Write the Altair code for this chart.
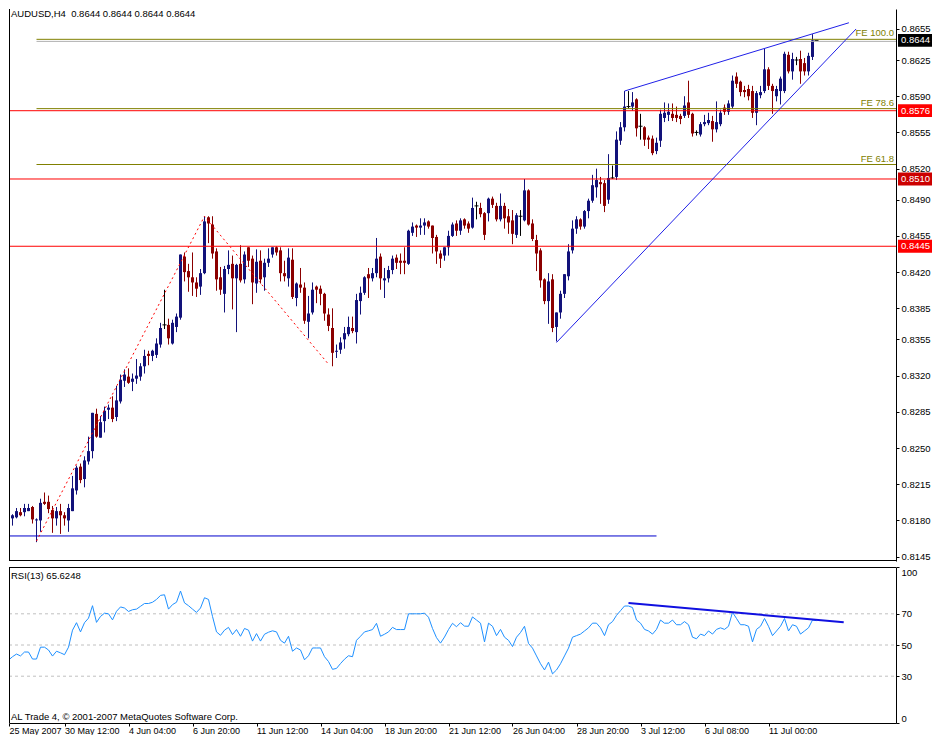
import altair as alt
import pandas as pd

# ---------------- data ----------------
OPEN = [
    0.8215, 0.8183, 0.8182, 0.8183, 0.8188, 0.8188, 0.8189, 0.8193, 0.8180, 0.8180,
    0.8198, 0.8198, 0.8190, 0.8182, 0.8189, 0.8185, 0.8180, 0.8189, 0.8209, 0.8232,
    0.8220, 0.8237, 0.8247, 0.8283, 0.8260, 0.8276, 0.8287, 0.8289, 0.8280, 0.8295,
    0.8315, 0.8319, 0.8314, 0.8317, 0.8319, 0.8329, 0.8341, 0.8339, 0.8340, 0.8350,
    0.8369, 0.8369, 0.8351, 0.8367, 0.8376, 0.8435, 0.8421, 0.8415, 0.8410, 0.8406,
    0.8419, 0.8473, 0.8466, 0.8440, 0.8415, 0.8399, 0.8423, 0.8428, 0.8414, 0.8428,
    0.8413, 0.8444, 0.8433, 0.8409, 0.8431, 0.8415, 0.8429, 0.8437, 0.8444, 0.8441,
    0.8419, 0.8414, 0.8432, 0.8395, 0.8408, 0.8405, 0.8372, 0.8381, 0.8406, 0.8404,
    0.8399, 0.8379, 0.8366, 0.8343, 0.8345, 0.8355, 0.8360, 0.8366, 0.8362, 0.8392,
    0.8400, 0.8418, 0.8414, 0.8419, 0.8435, 0.8412, 0.8414, 0.8422, 0.8434, 0.8431,
    0.8431, 0.8428, 0.8458, 0.8465, 0.8463, 0.8465, 0.8469, 0.8465, 0.8454, 0.8438,
    0.8436, 0.8444, 0.8455, 0.8467, 0.8460, 0.8471, 0.8467, 0.8463, 0.8484, 0.8482,
    0.8477, 0.8477, 0.8491, 0.8484, 0.8471, 0.8484, 0.8474, 0.8470, 0.8456, 0.8474,
    0.8470, 0.8499, 0.8467, 0.8451, 0.8441, 0.8413, 0.8392, 0.8413, 0.8367, 0.8381,
    0.8399, 0.8416, 0.8441, 0.8462, 0.8471, 0.8464, 0.8479, 0.8489, 0.8502, 0.8507,
    0.8506, 0.8490, 0.8511, 0.8512, 0.8547, 0.8560, 0.8580, 0.8580, 0.8587, 0.8561,
    0.8560, 0.8550, 0.8549, 0.8537, 0.8547, 0.8569, 0.8572, 0.8573, 0.8572, 0.8571,
    0.8571, 0.8584, 0.8573, 0.8555, 0.8553, 0.8563, 0.8564, 0.8566, 0.8558, 0.8563,
    0.8579, 0.8575, 0.8580, 0.8609, 0.8604, 0.8596, 0.8597, 0.8595, 0.8574, 0.8591,
    0.8595, 0.8616, 0.8600, 0.8590, 0.8595, 0.8595, 0.8630, 0.8614, 0.8625, 0.8626,
    0.8622, 0.8614, 0.8628, 0.8644,
]
HIGH = [
    0.8218, 0.8184, 0.8186, 0.8192, 0.8192, 0.8196, 0.8196, 0.8194, 0.8182, 0.8201,
    0.8207, 0.8204, 0.8194, 0.8193, 0.8196, 0.8188, 0.8196, 0.8223, 0.8233, 0.8235,
    0.8242, 0.8261, 0.8284, 0.8288, 0.8281, 0.8290, 0.8292, 0.8300, 0.8310, 0.8321,
    0.8326, 0.8327, 0.8322, 0.8336, 0.8332, 0.8345, 0.8344, 0.8345, 0.8356, 0.8371,
    0.8403, 0.8375, 0.8374, 0.8380, 0.8437, 0.8439, 0.8428, 0.8439, 0.8415, 0.8423,
    0.8474, 0.8474, 0.8474, 0.8443, 0.8425, 0.8426, 0.8441, 0.8436, 0.8428, 0.8446,
    0.8440, 0.8444, 0.8436, 0.8442, 0.8441, 0.8433, 0.8443, 0.8444, 0.8445, 0.8444,
    0.8431, 0.8443, 0.8443, 0.8410, 0.8424, 0.8410, 0.8397, 0.8410, 0.8407, 0.8407,
    0.8400, 0.8385, 0.8385, 0.8350, 0.8357, 0.8367, 0.8377, 0.8377, 0.8399, 0.8406,
    0.8416, 0.8424, 0.8424, 0.8453, 0.8438, 0.8424, 0.8426, 0.8436, 0.8437, 0.8438,
    0.8444, 0.8461, 0.8468, 0.8466, 0.8472, 0.8472, 0.8470, 0.8465, 0.8456, 0.8441,
    0.8444, 0.8460, 0.8468, 0.8470, 0.8472, 0.8472, 0.8469, 0.8492, 0.8488, 0.8487,
    0.8478, 0.8492, 0.8493, 0.8487, 0.8496, 0.8487, 0.8481, 0.8480, 0.8477, 0.8480,
    0.8510, 0.8500, 0.8471, 0.8456, 0.8443, 0.8414, 0.8419, 0.8418, 0.8381, 0.8402,
    0.8418, 0.8447, 0.8470, 0.8474, 0.8472, 0.8480, 0.8491, 0.8514, 0.8520, 0.8512,
    0.8509, 0.8534, 0.8523, 0.8556, 0.8565, 0.8595, 0.8595, 0.8594, 0.8588, 0.8573,
    0.8561, 0.8552, 0.8552, 0.8550, 0.8577, 0.8584, 0.8583, 0.8583, 0.8580, 0.8573,
    0.8590, 0.8605, 0.8574, 0.8557, 0.8565, 0.8572, 0.8574, 0.8571, 0.8585, 0.8577,
    0.8582, 0.8586, 0.8610, 0.8613, 0.8605, 0.8600, 0.8601, 0.8600, 0.8595, 0.8600,
    0.8636, 0.8618, 0.8602, 0.8600, 0.8609, 0.8633, 0.8633, 0.8632, 0.8628, 0.8634,
    0.8627, 0.8632, 0.8650, 0.8644,
]
LOW = [
    0.8178, 0.8175, 0.8175, 0.8182, 0.8184, 0.8184, 0.8189, 0.8177, 0.8159, 0.8169,
    0.8195, 0.8187, 0.8168, 0.8175, 0.8167, 0.8175, 0.8169, 0.8189, 0.8205, 0.8216,
    0.8212, 0.8234, 0.8240, 0.8260, 0.8260, 0.8265, 0.8278, 0.8275, 0.8276, 0.8293,
    0.8309, 0.8312, 0.8305, 0.8312, 0.8315, 0.8322, 0.8330, 0.8334, 0.8337, 0.8347,
    0.8365, 0.8350, 0.8350, 0.8362, 0.8374, 0.8411, 0.8401, 0.8397, 0.8396, 0.8398,
    0.8418, 0.8448, 0.8433, 0.8402, 0.8398, 0.8381, 0.8418, 0.8384, 0.8362, 0.8410,
    0.8409, 0.8425, 0.8389, 0.8400, 0.8409, 0.8402, 0.8425, 0.8434, 0.8436, 0.8411,
    0.8411, 0.8406, 0.8394, 0.8387, 0.8400, 0.8370, 0.8356, 0.8379, 0.8390, 0.8388,
    0.8373, 0.8363, 0.8329, 0.8337, 0.8341, 0.8346, 0.8358, 0.8361, 0.8351, 0.8379,
    0.8398, 0.8395, 0.8411, 0.8415, 0.8403, 0.8395, 0.8410, 0.8418, 0.8423, 0.8418,
    0.8418, 0.8427, 0.8455, 0.8454, 0.8456, 0.8456, 0.8462, 0.8438, 0.8428, 0.8424,
    0.8431, 0.8436, 0.8454, 0.8455, 0.8456, 0.8462, 0.8458, 0.8462, 0.8471, 0.8473,
    0.8451, 0.8469, 0.8482, 0.8469, 0.8469, 0.8462, 0.8457, 0.8447, 0.8453, 0.8455,
    0.8469, 0.8465, 0.8450, 0.8421, 0.8405, 0.8389, 0.8370, 0.8362, 0.8353, 0.8375,
    0.8395, 0.8412, 0.8438, 0.8457, 0.8461, 0.8462, 0.8472, 0.8487, 0.8492, 0.8486,
    0.8478, 0.8486, 0.8510, 0.8509, 0.8543, 0.8556, 0.8578, 0.8576, 0.8551, 0.8548,
    0.8542, 0.8539, 0.8533, 0.8534, 0.8541, 0.8565, 0.8566, 0.8566, 0.8565, 0.8563,
    0.8569, 0.8569, 0.8551, 0.8552, 0.8551, 0.8561, 0.8562, 0.8546, 0.8555, 0.8561,
    0.8572, 0.8572, 0.8578, 0.8598, 0.8590, 0.8589, 0.8586, 0.8569, 0.8562, 0.8588,
    0.8593, 0.8596, 0.8573, 0.8585, 0.8582, 0.8593, 0.8612, 0.8606, 0.8620, 0.8602,
    0.8610, 0.8610, 0.8625, 0.8644,
]
CLOSE = [
    0.8181, 0.8181, 0.8185, 0.8189, 0.8185, 0.8192, 0.8192, 0.8181, 0.8181, 0.8197,
    0.8196, 0.8191, 0.8182, 0.8189, 0.8185, 0.8182, 0.8192, 0.8211, 0.8231, 0.8219,
    0.8238, 0.8247, 0.8284, 0.8261, 0.8275, 0.8286, 0.8289, 0.8278, 0.8296, 0.8316,
    0.8321, 0.8313, 0.8317, 0.8320, 0.8329, 0.8339, 0.8339, 0.8344, 0.8351, 0.8366,
    0.8369, 0.8356, 0.8371, 0.8377, 0.8437, 0.8420, 0.8415, 0.8410, 0.8404, 0.8419,
    0.8469, 0.8467, 0.8438, 0.8413, 0.8403, 0.8423, 0.8427, 0.8414, 0.8427, 0.8412,
    0.8437, 0.8431, 0.8410, 0.8430, 0.8413, 0.8429, 0.8433, 0.8444, 0.8439, 0.8419,
    0.8416, 0.8434, 0.8396, 0.8409, 0.8405, 0.8373, 0.8380, 0.8403, 0.8403, 0.8399,
    0.8380, 0.8368, 0.8342, 0.8344, 0.8352, 0.8361, 0.8367, 0.8363, 0.8393, 0.8400,
    0.8415, 0.8414, 0.8419, 0.8433, 0.8414, 0.8414, 0.8422, 0.8433, 0.8429, 0.8429,
    0.8429, 0.8460, 0.8464, 0.8463, 0.8465, 0.8468, 0.8464, 0.8453, 0.8440, 0.8433,
    0.8444, 0.8455, 0.8466, 0.8460, 0.8470, 0.8465, 0.8462, 0.8482, 0.8484, 0.8476,
    0.8456, 0.8491, 0.8485, 0.8471, 0.8484, 0.8472, 0.8468, 0.8457, 0.8475, 0.8474,
    0.8499, 0.8466, 0.8452, 0.8438, 0.8412, 0.8392, 0.8411, 0.8366, 0.8381, 0.8399,
    0.8418, 0.8440, 0.8462, 0.8471, 0.8464, 0.8479, 0.8489, 0.8504, 0.8509, 0.8505,
    0.8484, 0.8511, 0.8511, 0.8548, 0.8560, 0.8580, 0.8580, 0.8584, 0.8559, 0.8561,
    0.8548, 0.8548, 0.8535, 0.8545, 0.8573, 0.8574, 0.8575, 0.8569, 0.8569, 0.8568,
    0.8581, 0.8572, 0.8554, 0.8555, 0.8563, 0.8565, 0.8567, 0.8558, 0.8565, 0.8574,
    0.8575, 0.8583, 0.8605, 0.8602, 0.8594, 0.8594, 0.8590, 0.8574, 0.8593, 0.8594,
    0.8616, 0.8600, 0.8595, 0.8597, 0.8607, 0.8631, 0.8614, 0.8626, 0.8625, 0.8614,
    0.8614, 0.8629, 0.8644, 0.8644,
]
RSI = [
    40.3, 40.3, 42.5, 44.2, 43.0, 45.5, 45.5, 41.0, 41.0, 48.6,
    48.6, 46.8, 42.9, 46.0, 45.0, 43.8, 48.6, 59.5, 64.3, 58.4,
    64.3, 67.2, 75.2, 64.5, 68.3, 70.4, 70.0, 66.1, 71.6, 74.4,
    73.7, 71.5, 72.6, 73.0, 74.8, 76.6, 76.6, 77.4, 79.2, 81.8,
    82.2, 73.0, 75.9, 77.4, 84.6, 77.0, 75.2, 73.0, 70.9, 73.7,
    80.3, 79.2, 68.3, 58.4, 56.2, 59.5, 61.3, 56.7, 59.9, 55.6,
    60.6, 59.5, 52.5, 57.3, 52.5, 56.9, 58.2, 59.1, 58.4, 53.0,
    51.2, 55.6, 46.0, 48.1, 46.8, 40.5, 43.1, 48.1, 48.1, 48.1,
    42.5, 39.4, 34.4, 35.0, 38.1, 40.9, 43.1, 42.5, 53.0, 55.6,
    58.4, 59.1, 59.9, 63.9, 55.6, 56.9, 58.4, 61.3, 59.9, 59.9,
    59.9, 70.0, 70.0, 70.0, 70.0, 70.4, 67.8, 60.6, 54.7, 51.2,
    55.1, 59.9, 63.9, 61.7, 64.3, 62.1, 62.0, 68.0, 66.0, 64.0,
    52.0, 64.0, 62.0, 56.0, 60.0, 55.0, 53.0, 49.0, 55.0, 58.0,
    62.0, 51.0, 48.0, 43.0, 38.0, 34.0, 39.0, 31.5, 34.0, 38.0,
    43.0, 48.0, 55.0, 56.0, 57.0, 59.0, 61.0, 64.0, 64.0, 61.0,
    56.0, 63.0, 65.0, 69.0, 72.0, 75.0, 75.0, 74.0, 66.0, 64.0,
    60.0, 59.0, 57.0, 60.0, 66.0, 64.0, 64.0, 66.0, 63.0, 63.0,
    65.0, 63.0, 55.0, 54.0, 57.0, 56.0, 59.0, 57.0, 60.0, 61.0,
    60.0, 62.0, 71.0, 67.0, 63.0, 63.0, 62.0, 52.0, 60.0, 62.0,
    67.0, 62.0, 56.0, 59.0, 62.0, 67.0, 59.0, 63.0, 62.0, 57.0,
    59.0, 61.0, 66.0, 65.6,
]

X_TICK_BARS = [1.125, 15, 31, 47, 63, 79, 95, 111, 127, 143, 159, 175, 191]
X_TICK_LABELS = ["25 May 2007", "30 May 12:00", "4 Jun 04:00", "6 Jun 20:00",
                 "11 Jun 12:00", "14 Jun 04:00", "18 Jun 20:00", "21 Jun 12:00",
                 "26 Jun 04:00", "28 Jun 20:00", "3 Jul 12:00", "6 Jul 08:00",
                 "11 Jul 00:00"]
PRICE_TICKS = [0.8655, 0.8625, 0.8590, 0.8555, 0.8520, 0.8490, 0.8455, 0.8420,
               0.8385, 0.8355, 0.8320, 0.8285, 0.8250, 0.8215, 0.8180, 0.8145]
RSI_TICKS = [0, 30, 50, 70, 100]
RSI_LEVELS = [30, 50, 70]

LEVEL_PRICES = [0.8576, 0.8510, 0.8445]
BOX_PRICES = [0.8644, 0.8576, 0.8510, 0.8445]
BOX_COLORS = ["#000000", "#ff0000", "#cc0000", "#ff0000"]
BID_PRICE = 0.8643
FE_NAMES = ["FE 61.8", "FE 78.6", "FE 100.0"]
FE_PRICES = [0.8524, 0.8578, 0.8645]
FE_START_BAR = 8
SUPPORT_PRICE = 0.8165
SUPPORT_END_BAR = 163
FIB_PATH_BARS = [8, 50, 81]
FIB_PATH_PRICES = [0.8160, 0.8474, 0.8331]
WEDGE_BAR1 = [155, 138]
WEDGE_BAR2 = [211.1, 212.9]
WEDGE_P1 = [0.8595, 0.8352]
WEDGE_P2 = [0.8661, 0.8655]
RSI_TREND_BARS = [156, 209.8]
RSI_TREND_VALUES = [77.0, 64.6]

HEADER = "AUDUSD,H4\u00a0\u00a00.8644 0.8644 0.8644 0.8644"
RSI_TITLE = "RSI(13) 65.6248"
FOOTER = "AL Trade 4, \u00a9 2001-2007 MetaQuotes Software Corp."

# ---------------- layout / style ----------------
FONT = "Liberation Sans"
FS = 9.5
W, H_MAIN, H_RSI = 887, 552, 156
X_DOMAIN = [1.125, 1.125 + W / 4]
PRICE_DOMAIN = [0.81408, 0.86743]
BULL, BEAR = "#1c1caa", "#c00000"
BULL_WICK, BEAR_WICK = "#12127a", "#8b0000"
OLIVE = "#808000"

xs = alt.Scale(domain=X_DOMAIN, nice=False, zero=False)
ys = alt.Scale(domain=PRICE_DOMAIN, nice=False, zero=False)
rs = alt.Scale(domain=[0, 100], nice=False, zero=False)

n = len(OPEN)
bars = pd.DataFrame({"bar": list(range(n)), "open": OPEN, "high": HIGH,
                     "low": LOW, "close": CLOSE, "rsi": RSI})
bars["dir"] = ["up" if c > o else ("down" if c < o else "doji")
               for o, c in zip(OPEN, CLOSE)]

price_axis = alt.Axis(orient="right", values=PRICE_TICKS, format=".4f", title=None,
                      grid=False, labelFont=FONT, labelFontSize=FS, labelColor="black",
                      tickColor="black", tickSize=3, domainColor="black",
                      labelPadding=2, labelOverlap=False)


def PY(field):
    return alt.Y(field, type="quantitative", scale=ys, axis=price_axis)


def PX(field):
    return alt.X(field, type="quantitative", scale=xs, axis=None)


wick_color = alt.Color("dir:N", legend=None,
                       scale=alt.Scale(domain=["up", "down", "doji"],
                                       range=[BULL_WICK, BEAR_WICK, "#000000"]))
body_color = alt.Color("dir:N", legend=None,
                       scale=alt.Scale(domain=["up", "down", "doji"],
                                       range=[BULL, BEAR, "#000000"]))

base = alt.Chart(bars)

wicks = base.mark_rule(strokeWidth=1, clip=True).encode(
    x=PX("bar"), y=PY("low"), y2="high:Q", color=wick_color)
bodies = base.transform_filter("datum.dir != 'doji'").transform_calculate(
    b1="datum.bar - 0.375", b2="datum.bar + 0.375"
).mark_rect(stroke=None, clip=True).encode(
    x=PX("b1"), x2="b2:Q", y=PY("open"), y2="close:Q", color=body_color)
dojis = base.transform_filter("datum.dir == 'doji'").transform_calculate(
    b1="datum.bar - 0.5", b2="datum.bar + 0.5"
).mark_rule(color="black", strokeWidth=1, clip=True).encode(
    x=PX("b1"), x2="b2:Q", y=PY("open"))

levels_df = pd.DataFrame({"p": LEVEL_PRICES})
levels = alt.Chart(levels_df).mark_rule(color="#ff0000", strokeWidth=1).encode(
    y=PY("p"), x=alt.value(0), x2=alt.value(W))

fe_df = pd.DataFrame({"name": FE_NAMES, "p": FE_PRICES, "start": [FE_START_BAR] * 3})
fe_lines = alt.Chart(fe_df).mark_rule(color=OLIVE, strokeWidth=1).encode(
    x=PX("start"), x2=alt.value(W), y=PY("p"))
fe_text = alt.Chart(fe_df).mark_text(align="right", baseline="bottom", dy=-1,
                                     font=FONT, fontSize=FS, color=OLIVE).encode(
    x=alt.value(W - 2), y=PY("p"), text="name:N")

bid_df = pd.DataFrame({"p": [BID_PRICE], "start": [FE_START_BAR]})
bid_line = alt.Chart(bid_df).mark_rule(color="#b0b0b0", strokeWidth=1).encode(
    x=PX("start"), x2=alt.value(W), y=PY("p"))

sup_df = pd.DataFrame({"p": [SUPPORT_PRICE], "end": [SUPPORT_END_BAR]})
support = alt.Chart(sup_df).transform_calculate(s=str(X_DOMAIN[0])).mark_rule(
    color="#0000cc", strokeWidth=1).encode(x=PX("s"), x2="end:Q", y=PY("p"))

fib_df = pd.DataFrame({"bar": FIB_PATH_BARS, "p": FIB_PATH_PRICES, "k": [0, 1, 2]})
fib_path = alt.Chart(fib_df).mark_line(color="#ff0000", strokeWidth=1,
                                       strokeDash=[2, 3]).encode(
    x=PX("bar"), y=PY("p"), order="k:Q")

wedge_df = pd.DataFrame({"b1": WEDGE_BAR1, "b2": WEDGE_BAR2, "p1": WEDGE_P1, "p2": WEDGE_P2})
wedge = alt.Chart(wedge_df).mark_rule(color="#2020e8", strokeWidth=1).encode(
    x=PX("b1"), x2="b2:Q", y=PY("p1"), y2="p2:Q")

box_df = pd.DataFrame({"p": BOX_PRICES, "col": BOX_COLORS,
                       "label": [f"{v:.4f}" for v in BOX_PRICES]})
boxes = alt.Chart(box_df).transform_calculate(
    top="datum.p + 0.00062", bot="datum.p - 0.00062"
).mark_rect().encode(
    x=alt.value(W + 2), x2=alt.value(W + 36),
    y=PY("top"), y2="bot:Q",
    color=alt.Color("col:N", scale=None))
box_text = alt.Chart(box_df).mark_text(align="left", baseline="middle", font=FONT,
                                       fontSize=FS, color="white").encode(
    x=alt.value(W + 5), y=PY("p"), text="label:N")

header = alt.Chart(pd.DataFrame({"t": [HEADER]})).mark_text(
    align="left", baseline="top", font=FONT, fontSize=FS, color="black").encode(
    x=alt.value(2), y=alt.value(0), text="t:N")

frame_main = alt.Chart(pd.DataFrame({"k": [0]})).mark_rule(color="black").encode(
    x=alt.value(0.5), y=alt.value(0), y2=alt.value(H_MAIN))
frame_main_b = alt.Chart(pd.DataFrame({"k": [0]})).mark_rule(color="black").encode(
    x=alt.value(0), x2=alt.value(W), y=alt.value(H_MAIN - 0.5))

main = alt.layer(
    wicks, bodies, dojis, levels, bid_line, fe_lines, fe_text, support, fib_path,
    wedge, boxes, box_text, header, frame_main, frame_main_b
).properties(width=W, height=H_MAIN)

# ---------------- RSI panel ----------------
label_expr = "".join(f"datum.value == {v} ? '{t}' : " for v, t in zip(X_TICK_BARS, X_TICK_LABELS)) + "''"
x_axis = alt.Axis(orient="bottom", values=X_TICK_BARS, labelExpr=label_expr, title=None,
                  grid=False, labelAlign="left", labelFont=FONT, labelFontSize=9,
                  labelColor="black", tickColor="black", tickSize=3, domainColor="black",
                  labelPadding=0, labelOverlap=False, labelFlush=False, labelBound=False)
rsi_axis = alt.Axis(orient="right", values=RSI_TICKS, title=None, grid=False,
                    labelFont=FONT, labelFontSize=FS, labelColor="black",
                    tickColor="black", tickSize=3, domainColor="black",
                    labelPadding=2, labelFlush=True, labelOverlap=False)


def RY(field):
    return alt.Y(field, type="quantitative", scale=rs, axis=rsi_axis)


def RX(field):
    return alt.X(field, type="quantitative", scale=xs, axis=x_axis)


rsi_line = base.mark_line(color="#1e90ff", strokeWidth=1, clip=True).encode(
    x=RX("bar"), y=RY("rsi"))
rsi_lv = alt.Chart(pd.DataFrame({"v": RSI_LEVELS})).mark_rule(
    color="#c0c0c0", strokeDash=[3, 3], strokeWidth=1).encode(
    y=RY("v"), x=alt.value(0), x2=alt.value(W))
rsi_tr_df = pd.DataFrame({"b1": [RSI_TREND_BARS[0]], "b2": [RSI_TREND_BARS[1]],
                          "v1": [RSI_TREND_VALUES[0]], "v2": [RSI_TREND_VALUES[1]]})
rsi_trend = alt.Chart(rsi_tr_df).mark_rule(color="#1010e0", strokeWidth=2).encode(
    x=RX("b1"), x2="b2:Q", y=RY("v1"), y2="v2:Q")
rsi_title = alt.Chart(pd.DataFrame({"t": [RSI_TITLE]})).mark_text(
    align="left", baseline="middle", font=FONT, fontSize=FS, color="black").encode(
    x=alt.value(2), y=alt.value(9), text="t:N")
footer = alt.Chart(pd.DataFrame({"t": [FOOTER]})).mark_text(
    align="left", baseline="middle", font=FONT, fontSize=FS, color="black").encode(
    x=alt.value(2), y=alt.value(H_RSI - 6), text="t:N")
frame_rsi_l = alt.Chart(pd.DataFrame({"k": [0]})).mark_rule(color="black").encode(
    x=alt.value(0.5), y=alt.value(0), y2=alt.value(H_RSI))
frame_rsi_t = alt.Chart(pd.DataFrame({"k": [0]})).mark_rule(color="black").encode(
    x=alt.value(0), x2=alt.value(W), y=alt.value(0.5))

rsi = alt.layer(
    rsi_lv, rsi_line, rsi_trend, rsi_title, footer, frame_rsi_l, frame_rsi_t
).properties(width=W, height=H_RSI)

chart = alt.vconcat(main, rsi, spacing=4).properties(
    padding=0, background="white",
).configure_view(stroke=None)

chart.save("out.html", embed_options={"renderer": "svg", "actions": False})
